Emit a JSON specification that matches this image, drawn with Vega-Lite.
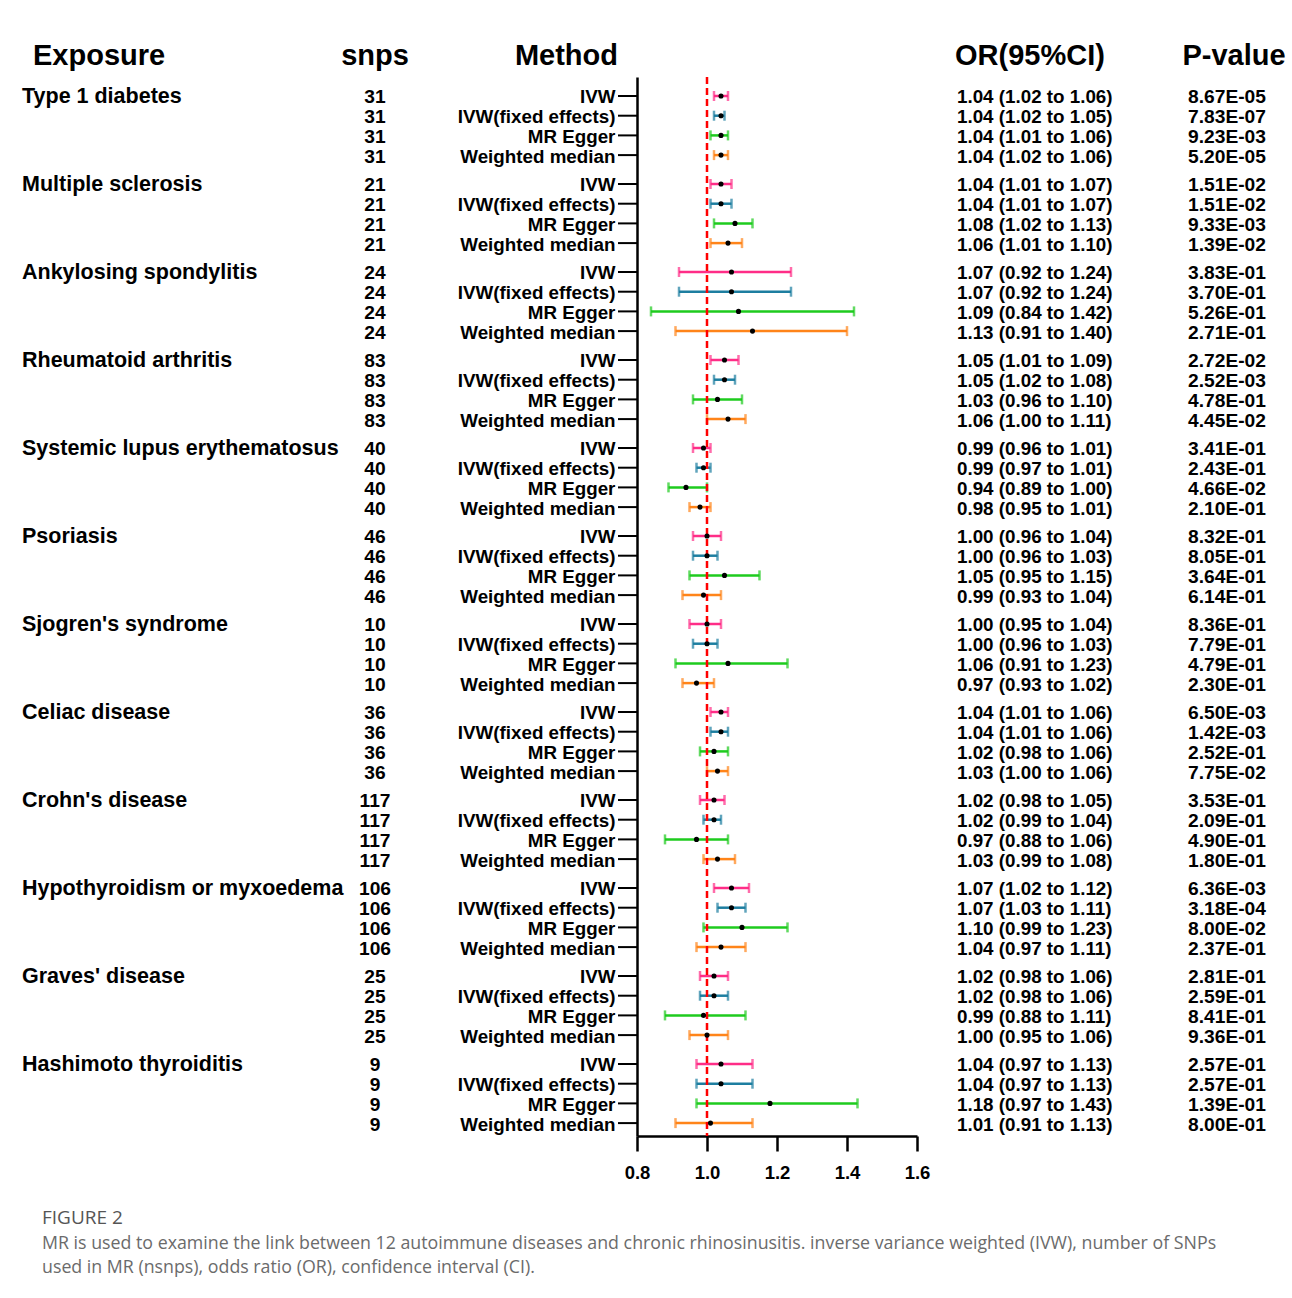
{
  "$schema": "https://vega.github.io/schema/vega-lite/v6.json",
  "padding": {"left": 22, "top": 42, "right": 0, "bottom": 10},
  "background": "white",
  "bounds": "flush",
  "spacing": 0,
  "title": {
    "text": "FIGURE 2",
    "subtitle": ["MR is used to examine the link between 12 autoimmune diseases and chronic rhinosinusitis. inverse variance weighted (IVW), number of SNPs", "used in MR (nsnps), odds ratio (OR), confidence interval (CI)."],
    "orient": "bottom", "anchor": "start", "dx": 20, "offset": 27, "baseline": "top",
    "font": "Open Sans", "fontSize": 19, "fontWeight": "normal", "color": "#555555",
    "subtitleFont": "Open Sans", "subtitleFontSize": 17.8, "subtitleColor": "#6b6b6b", "subtitleLineHeight": 24, "subtitlePadding": 7
  },
  "data": {"values": [
    {"exposure": "Type 1 diabetes", "snps": 31, "method": "IVW", "or": 1.04, "lo": 1.02, "hi": 1.06, "ci": "1.04 (1.02 to 1.06)", "p": "8.67E-05"},
    {"exposure": "Type 1 diabetes", "snps": 31, "method": "IVW(fixed effects)", "or": 1.04, "lo": 1.02, "hi": 1.05, "ci": "1.04 (1.02 to 1.05)", "p": "7.83E-07"},
    {"exposure": "Type 1 diabetes", "snps": 31, "method": "MR Egger", "or": 1.04, "lo": 1.01, "hi": 1.06, "ci": "1.04 (1.01 to 1.06)", "p": "9.23E-03"},
    {"exposure": "Type 1 diabetes", "snps": 31, "method": "Weighted median", "or": 1.04, "lo": 1.02, "hi": 1.06, "ci": "1.04 (1.02 to 1.06)", "p": "5.20E-05"},
    {"exposure": "Multiple sclerosis", "snps": 21, "method": "IVW", "or": 1.04, "lo": 1.01, "hi": 1.07, "ci": "1.04 (1.01 to 1.07)", "p": "1.51E-02"},
    {"exposure": "Multiple sclerosis", "snps": 21, "method": "IVW(fixed effects)", "or": 1.04, "lo": 1.01, "hi": 1.07, "ci": "1.04 (1.01 to 1.07)", "p": "1.51E-02"},
    {"exposure": "Multiple sclerosis", "snps": 21, "method": "MR Egger", "or": 1.08, "lo": 1.02, "hi": 1.13, "ci": "1.08 (1.02 to 1.13)", "p": "9.33E-03"},
    {"exposure": "Multiple sclerosis", "snps": 21, "method": "Weighted median", "or": 1.06, "lo": 1.01, "hi": 1.10, "ci": "1.06 (1.01 to 1.10)", "p": "1.39E-02"},
    {"exposure": "Ankylosing spondylitis", "snps": 24, "method": "IVW", "or": 1.07, "lo": 0.92, "hi": 1.24, "ci": "1.07 (0.92 to 1.24)", "p": "3.83E-01"},
    {"exposure": "Ankylosing spondylitis", "snps": 24, "method": "IVW(fixed effects)", "or": 1.07, "lo": 0.92, "hi": 1.24, "ci": "1.07 (0.92 to 1.24)", "p": "3.70E-01"},
    {"exposure": "Ankylosing spondylitis", "snps": 24, "method": "MR Egger", "or": 1.09, "lo": 0.84, "hi": 1.42, "ci": "1.09 (0.84 to 1.42)", "p": "5.26E-01"},
    {"exposure": "Ankylosing spondylitis", "snps": 24, "method": "Weighted median", "or": 1.13, "lo": 0.91, "hi": 1.40, "ci": "1.13 (0.91 to 1.40)", "p": "2.71E-01"},
    {"exposure": "Rheumatoid arthritis", "snps": 83, "method": "IVW", "or": 1.05, "lo": 1.01, "hi": 1.09, "ci": "1.05 (1.01 to 1.09)", "p": "2.72E-02"},
    {"exposure": "Rheumatoid arthritis", "snps": 83, "method": "IVW(fixed effects)", "or": 1.05, "lo": 1.02, "hi": 1.08, "ci": "1.05 (1.02 to 1.08)", "p": "2.52E-03"},
    {"exposure": "Rheumatoid arthritis", "snps": 83, "method": "MR Egger", "or": 1.03, "lo": 0.96, "hi": 1.10, "ci": "1.03 (0.96 to 1.10)", "p": "4.78E-01"},
    {"exposure": "Rheumatoid arthritis", "snps": 83, "method": "Weighted median", "or": 1.06, "lo": 1.00, "hi": 1.11, "ci": "1.06 (1.00 to 1.11)", "p": "4.45E-02"},
    {"exposure": "Systemic lupus erythematosus", "snps": 40, "method": "IVW", "or": 0.99, "lo": 0.96, "hi": 1.01, "ci": "0.99 (0.96 to 1.01)", "p": "3.41E-01"},
    {"exposure": "Systemic lupus erythematosus", "snps": 40, "method": "IVW(fixed effects)", "or": 0.99, "lo": 0.97, "hi": 1.01, "ci": "0.99 (0.97 to 1.01)", "p": "2.43E-01"},
    {"exposure": "Systemic lupus erythematosus", "snps": 40, "method": "MR Egger", "or": 0.94, "lo": 0.89, "hi": 1.00, "ci": "0.94 (0.89 to 1.00)", "p": "4.66E-02"},
    {"exposure": "Systemic lupus erythematosus", "snps": 40, "method": "Weighted median", "or": 0.98, "lo": 0.95, "hi": 1.01, "ci": "0.98 (0.95 to 1.01)", "p": "2.10E-01"},
    {"exposure": "Psoriasis", "snps": 46, "method": "IVW", "or": 1.00, "lo": 0.96, "hi": 1.04, "ci": "1.00 (0.96 to 1.04)", "p": "8.32E-01"},
    {"exposure": "Psoriasis", "snps": 46, "method": "IVW(fixed effects)", "or": 1.00, "lo": 0.96, "hi": 1.03, "ci": "1.00 (0.96 to 1.03)", "p": "8.05E-01"},
    {"exposure": "Psoriasis", "snps": 46, "method": "MR Egger", "or": 1.05, "lo": 0.95, "hi": 1.15, "ci": "1.05 (0.95 to 1.15)", "p": "3.64E-01"},
    {"exposure": "Psoriasis", "snps": 46, "method": "Weighted median", "or": 0.99, "lo": 0.93, "hi": 1.04, "ci": "0.99 (0.93 to 1.04)", "p": "6.14E-01"},
    {"exposure": "Sjogren's syndrome", "snps": 10, "method": "IVW", "or": 1.00, "lo": 0.95, "hi": 1.04, "ci": "1.00 (0.95 to 1.04)", "p": "8.36E-01"},
    {"exposure": "Sjogren's syndrome", "snps": 10, "method": "IVW(fixed effects)", "or": 1.00, "lo": 0.96, "hi": 1.03, "ci": "1.00 (0.96 to 1.03)", "p": "7.79E-01"},
    {"exposure": "Sjogren's syndrome", "snps": 10, "method": "MR Egger", "or": 1.06, "lo": 0.91, "hi": 1.23, "ci": "1.06 (0.91 to 1.23)", "p": "4.79E-01"},
    {"exposure": "Sjogren's syndrome", "snps": 10, "method": "Weighted median", "or": 0.97, "lo": 0.93, "hi": 1.02, "ci": "0.97 (0.93 to 1.02)", "p": "2.30E-01"},
    {"exposure": "Celiac disease", "snps": 36, "method": "IVW", "or": 1.04, "lo": 1.01, "hi": 1.06, "ci": "1.04 (1.01 to 1.06)", "p": "6.50E-03"},
    {"exposure": "Celiac disease", "snps": 36, "method": "IVW(fixed effects)", "or": 1.04, "lo": 1.01, "hi": 1.06, "ci": "1.04 (1.01 to 1.06)", "p": "1.42E-03"},
    {"exposure": "Celiac disease", "snps": 36, "method": "MR Egger", "or": 1.02, "lo": 0.98, "hi": 1.06, "ci": "1.02 (0.98 to 1.06)", "p": "2.52E-01"},
    {"exposure": "Celiac disease", "snps": 36, "method": "Weighted median", "or": 1.03, "lo": 1.00, "hi": 1.06, "ci": "1.03 (1.00 to 1.06)", "p": "7.75E-02"},
    {"exposure": "Crohn's disease", "snps": 117, "method": "IVW", "or": 1.02, "lo": 0.98, "hi": 1.05, "ci": "1.02 (0.98 to 1.05)", "p": "3.53E-01"},
    {"exposure": "Crohn's disease", "snps": 117, "method": "IVW(fixed effects)", "or": 1.02, "lo": 0.99, "hi": 1.04, "ci": "1.02 (0.99 to 1.04)", "p": "2.09E-01"},
    {"exposure": "Crohn's disease", "snps": 117, "method": "MR Egger", "or": 0.97, "lo": 0.88, "hi": 1.06, "ci": "0.97 (0.88 to 1.06)", "p": "4.90E-01"},
    {"exposure": "Crohn's disease", "snps": 117, "method": "Weighted median", "or": 1.03, "lo": 0.99, "hi": 1.08, "ci": "1.03 (0.99 to 1.08)", "p": "1.80E-01"},
    {"exposure": "Hypothyroidism or myxoedema", "snps": 106, "method": "IVW", "or": 1.07, "lo": 1.02, "hi": 1.12, "ci": "1.07 (1.02 to 1.12)", "p": "6.36E-03"},
    {"exposure": "Hypothyroidism or myxoedema", "snps": 106, "method": "IVW(fixed effects)", "or": 1.07, "lo": 1.03, "hi": 1.11, "ci": "1.07 (1.03 to 1.11)", "p": "3.18E-04"},
    {"exposure": "Hypothyroidism or myxoedema", "snps": 106, "method": "MR Egger", "or": 1.10, "lo": 0.99, "hi": 1.23, "ci": "1.10 (0.99 to 1.23)", "p": "8.00E-02"},
    {"exposure": "Hypothyroidism or myxoedema", "snps": 106, "method": "Weighted median", "or": 1.04, "lo": 0.97, "hi": 1.11, "ci": "1.04 (0.97 to 1.11)", "p": "2.37E-01"},
    {"exposure": "Graves' disease", "snps": 25, "method": "IVW", "or": 1.02, "lo": 0.98, "hi": 1.06, "ci": "1.02 (0.98 to 1.06)", "p": "2.81E-01"},
    {"exposure": "Graves' disease", "snps": 25, "method": "IVW(fixed effects)", "or": 1.02, "lo": 0.98, "hi": 1.06, "ci": "1.02 (0.98 to 1.06)", "p": "2.59E-01"},
    {"exposure": "Graves' disease", "snps": 25, "method": "MR Egger", "or": 0.99, "lo": 0.88, "hi": 1.11, "ci": "0.99 (0.88 to 1.11)", "p": "8.41E-01"},
    {"exposure": "Graves' disease", "snps": 25, "method": "Weighted median", "or": 1.00, "lo": 0.95, "hi": 1.06, "ci": "1.00 (0.95 to 1.06)", "p": "9.36E-01"},
    {"exposure": "Hashimoto thyroiditis", "snps": 9, "method": "IVW", "or": 1.04, "lo": 0.97, "hi": 1.13, "ci": "1.04 (0.97 to 1.13)", "p": "2.57E-01"},
    {"exposure": "Hashimoto thyroiditis", "snps": 9, "method": "IVW(fixed effects)", "or": 1.04, "lo": 0.97, "hi": 1.13, "ci": "1.04 (0.97 to 1.13)", "p": "2.57E-01"},
    {"exposure": "Hashimoto thyroiditis", "snps": 9, "method": "MR Egger", "or": 1.18, "lo": 0.97, "hi": 1.43, "ci": "1.18 (0.97 to 1.43)", "p": "1.39E-01"},
    {"exposure": "Hashimoto thyroiditis", "snps": 9, "method": "Weighted median", "or": 1.01, "lo": 0.91, "hi": 1.13, "ci": "1.01 (0.91 to 1.13)", "p": "8.00E-01"}
  ]},
  "hconcat": [
    {
      "width": 323, "height": 1059,
      "title": {"text": "Exposure", "anchor": "start", "dx": 11},
      "transform": [{"filter": "datum.method === 'IVW'"}],
      "mark": {"type": "text", "align": "left", "baseline": "middle", "dy": 1.5, "font": "Liberation Sans", "fontSize": 21.5, "fontWeight": "bold", "color": "black"},
      "encoding": {
        "x": {"datum": 0, "scale": {"domain": [0, 1]}, "axis": null},
        "y": {"field": "exposure", "type": "nominal", "sort": null, "axis": null, "scale": {"domain": ["Type 1 diabetes", "Multiple sclerosis", "Ankylosing spondylitis", "Rheumatoid arthritis", "Systemic lupus erythematosus", "Psoriasis", "Sjogren's syndrome", "Celiac disease", "Crohn's disease", "Hypothyroidism or myxoedema", "Graves' disease", "Hashimoto thyroiditis"], "paddingInner": 0.1045, "paddingOuter": 0.0693, "align": 0.75}},
        "yOffset": {"field": "method", "type": "nominal", "scale": {"domain": ["IVW", "IVW(fixed effects)", "MR Egger", "Weighted median"], "paddingInner": 0, "paddingOuter": 0}},
        "text": {"field": "exposure"}
      }
    },
    {
      "width": 60, "height": 1059,
      "title": {"text": "snps", "anchor": "middle"},
      "mark": {"type": "text", "align": "center", "baseline": "middle", "dy": 1.5, "font": "Liberation Sans", "fontSize": 19.2, "fontWeight": "bold", "color": "black"},
      "encoding": {
        "y": {"field": "exposure", "type": "nominal", "sort": null, "axis": null, "scale": {"domain": ["Type 1 diabetes", "Multiple sclerosis", "Ankylosing spondylitis", "Rheumatoid arthritis", "Systemic lupus erythematosus", "Psoriasis", "Sjogren's syndrome", "Celiac disease", "Crohn's disease", "Hypothyroidism or myxoedema", "Graves' disease", "Hashimoto thyroiditis"], "paddingInner": 0.1045, "paddingOuter": 0.0693, "align": 0.75}},
        "yOffset": {"field": "method", "type": "nominal", "scale": {"domain": ["IVW", "IVW(fixed effects)", "MR Egger", "Weighted median"], "paddingInner": 0, "paddingOuter": 0}},
        "text": {"field": "snps"}
      }
    },
    {
      "width": 232, "height": 1059,
      "title": {"text": "Method", "anchor": "end", "dx": -20},
      "encoding": {
        "y": {"field": "exposure", "type": "nominal", "sort": null, "axis": null, "scale": {"domain": ["Type 1 diabetes", "Multiple sclerosis", "Ankylosing spondylitis", "Rheumatoid arthritis", "Systemic lupus erythematosus", "Psoriasis", "Sjogren's syndrome", "Celiac disease", "Crohn's disease", "Hypothyroidism or myxoedema", "Graves' disease", "Hashimoto thyroiditis"], "paddingInner": 0.1045, "paddingOuter": 0.0693, "align": 0.75}},
        "yOffset": {"field": "method", "type": "nominal", "scale": {"domain": ["IVW", "IVW(fixed effects)", "MR Egger", "Weighted median"], "paddingInner": 0, "paddingOuter": 0}}
      },
      "layer": [
        {
          "mark": {"type": "text", "align": "right", "baseline": "middle", "dy": 1.5, "font": "Liberation Sans", "fontSize": 18.8, "fontWeight": "bold", "color": "black"},
          "encoding": {
            "x": {"datum": 0.907, "scale": {"domain": [0, 1]}, "axis": null},
            "text": {"field": "method"}
          }
        },
        {
          "mark": {"type": "rule", "color": "black", "strokeWidth": 2},
          "encoding": {
            "x": {"datum": 0.918, "scale": {"domain": [0, 1]}, "axis": null},
            "x2": {"datum": 1}
          }
        }
      ]
    },
    {
      "width": 280, "height": 1059,
      "layer": [
        {
          "mark": {"type": "rule", "strokeWidth": 2.5},
          "encoding": {
            "y": {"field": "exposure", "type": "nominal", "sort": null, "scale": {"domain": ["Type 1 diabetes", "Multiple sclerosis", "Ankylosing spondylitis", "Rheumatoid arthritis", "Systemic lupus erythematosus", "Psoriasis", "Sjogren's syndrome", "Celiac disease", "Crohn's disease", "Hypothyroidism or myxoedema", "Graves' disease", "Hashimoto thyroiditis"], "paddingInner": 0.1045, "paddingOuter": 0.0693, "align": 0.75},
              "axis": {"domain": true, "domainColor": "black", "domainWidth": 2.5, "ticks": false, "labels": false, "title": null, "grid": false}},
            "yOffset": {"field": "method", "type": "nominal", "scale": {"domain": ["IVW", "IVW(fixed effects)", "MR Egger", "Weighted median"], "paddingInner": 0, "paddingOuter": 0}},
            "x": {"field": "lo", "type": "quantitative", "scale": {"domain": [0.8, 1.6], "nice": false, "zero": false},
              "axis": {"values": [0.8, 1.0, 1.2, 1.4, 1.6], "format": ".1f", "title": null, "grid": false, "labelFont": "Liberation Sans", "labelFontSize": 18.5, "labelFontWeight": "bold", "labelColor": "black", "tickSize": 15, "tickWidth": 2.5, "tickColor": "black", "domainColor": "black", "domainWidth": 2.5, "labelPadding": 12, "labelFlush": false}},
            "x2": {"field": "hi"},
            "color": {"field": "method", "type": "nominal", "legend": null, "scale": {"domain": ["IVW", "IVW(fixed effects)", "MR Egger", "Weighted median"], "range": ["#ff2d87", "#1d7ea0", "#1ecb1e", "#ff8419"]}}
          }
        },
        {
          "mark": {"type": "tick", "thickness": 2.5, "size": 10, "orient": "vertical"},
          "encoding": {
            "y": {"field": "exposure", "type": "nominal", "sort": null},
            "yOffset": {"field": "method", "type": "nominal"},
            "x": {"field": "lo", "type": "quantitative"},
            "color": {"field": "method", "type": "nominal", "legend": null}
          }
        },
        {
          "mark": {"type": "tick", "thickness": 2.5, "size": 10, "orient": "vertical"},
          "encoding": {
            "y": {"field": "exposure", "type": "nominal", "sort": null},
            "yOffset": {"field": "method", "type": "nominal"},
            "x": {"field": "hi", "type": "quantitative"},
            "color": {"field": "method", "type": "nominal", "legend": null}
          }
        },
        {
          "data": {"values": [{"ref": 1.0}]},
          "mark": {"type": "rule", "color": "#ff0000", "strokeWidth": 2.5, "strokeDash": [7, 4]},
          "encoding": {"x": {"field": "ref", "type": "quantitative"}}
        },
        {
          "mark": {"type": "point", "filled": true, "color": "black", "size": 26, "opacity": 1},
          "encoding": {
            "y": {"field": "exposure", "type": "nominal", "sort": null},
            "yOffset": {"field": "method", "type": "nominal"},
            "x": {"field": "or", "type": "quantitative"}
          }
        }
      ]
    },
    {
      "width": 243, "height": 1059,
      "title": {"text": "OR(95%CI)", "anchor": "start", "dx": 38},
      "mark": {"type": "text", "align": "left", "baseline": "middle", "dy": 1.5, "font": "Liberation Sans", "fontSize": 18.8, "fontWeight": "bold", "color": "black"},
      "encoding": {
        "x": {"datum": 0.1646, "scale": {"domain": [0, 1]}, "axis": null},
        "y": {"field": "exposure", "type": "nominal", "sort": null, "axis": null, "scale": {"domain": ["Type 1 diabetes", "Multiple sclerosis", "Ankylosing spondylitis", "Rheumatoid arthritis", "Systemic lupus erythematosus", "Psoriasis", "Sjogren's syndrome", "Celiac disease", "Crohn's disease", "Hypothyroidism or myxoedema", "Graves' disease", "Hashimoto thyroiditis"], "paddingInner": 0.1045, "paddingOuter": 0.0693, "align": 0.75}},
        "yOffset": {"field": "method", "type": "nominal", "scale": {"domain": ["IVW", "IVW(fixed effects)", "MR Egger", "Weighted median"], "paddingInner": 0, "paddingOuter": 0}},
        "text": {"field": "ci"}
      }
    },
    {
      "width": 134, "height": 1059,
      "title": {"text": "P-value", "anchor": "middle", "dx": 7},
      "mark": {"type": "text", "align": "center", "baseline": "middle", "dy": 1.5, "font": "Liberation Sans", "fontSize": 19.2, "fontWeight": "bold", "color": "black"},
      "encoding": {
        "y": {"field": "exposure", "type": "nominal", "sort": null, "axis": null, "scale": {"domain": ["Type 1 diabetes", "Multiple sclerosis", "Ankylosing spondylitis", "Rheumatoid arthritis", "Systemic lupus erythematosus", "Psoriasis", "Sjogren's syndrome", "Celiac disease", "Crohn's disease", "Hypothyroidism or myxoedema", "Graves' disease", "Hashimoto thyroiditis"], "paddingInner": 0.1045, "paddingOuter": 0.0693, "align": 0.75}},
        "yOffset": {"field": "method", "type": "nominal", "scale": {"domain": ["IVW", "IVW(fixed effects)", "MR Egger", "Weighted median"], "paddingInner": 0, "paddingOuter": 0}},
        "text": {"field": "p"}
      }
    }
  ],
  "config": {
    "view": {"stroke": null},
    "title": {"font": "Liberation Sans", "fontSize": 29, "fontWeight": "bold", "color": "black", "baseline": "alphabetic", "offset": 6},
    "concat": {"spacing": 0}
  }
}
